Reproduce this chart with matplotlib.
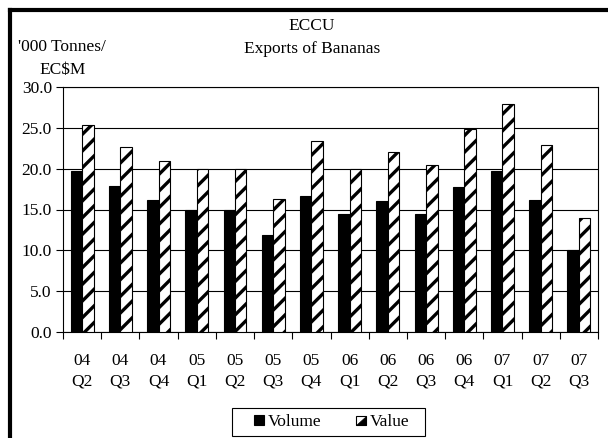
import numpy as np
import matplotlib
matplotlib.use("Agg")
import matplotlib.pyplot as plt
from matplotlib.patches import Rectangle, Polygon
from matplotlib.lines import Line2D
from matplotlib.ticker import FixedLocator, FormatStrFormatter

plt.rcParams["font.family"] = ["Liberation Serif", "DejaVu Serif"]
plt.rcParams["hatch.linewidth"] = 2.4

# ECCU banana exports by quarter
quarters = ["04\nQ2", "04\nQ3", "04\nQ4", "05\nQ1", "05\nQ2", "05\nQ3", "05\nQ4",
            "06\nQ1", "06\nQ2", "06\nQ3", "06\nQ4", "07\nQ1", "07\nQ2", "07\nQ3"]
volume = [19.7, 17.9, 16.2, 14.9, 15.0, 11.9, 16.6, 14.5, 16.0, 14.5, 17.7, 19.7, 16.2, 10.0]
value = [25.3, 22.7, 20.9, 19.9, 20.0, 16.3, 23.4, 19.9, 22.1, 20.4, 24.8, 27.9, 22.9, 13.9]


class HalfSquareHandler:
    """Legend key: outlined square with the lower-right half filled."""

    def legend_artist(self, legend, orig_handle, fontsize, handlebox):
        x0, y0 = -handlebox.xdescent, -handlebox.ydescent
        s = min(handlebox.width, handlebox.height)
        tr = handlebox.get_transform()
        sq = Rectangle((x0, y0), s, s, facecolor="white", edgecolor="black",
                       lw=0.8, transform=tr)
        tri = Polygon([[x0, y0], [x0 + s, y0], [x0 + s, y0 + s]], closed=True,
                      facecolor="black", edgecolor="black", lw=0.5, transform=tr)
        handlebox.add_artist(sq)
        handlebox.add_artist(tri)
        return sq


fs = 12.5
fig = plt.figure(figsize=(6.08, 4.38), dpi=100)
ax = fig.add_axes([63 / 608, 1 - 332 / 438, 535 / 608, 245 / 438])

x = np.arange(len(quarters))
w = 0.3
b1 = ax.bar(x - w / 2, volume, width=w, color="black", edgecolor="black",
            linewidth=0.8, label="Volume", zorder=3)
b2 = ax.bar(x + w / 2, value, width=w, color="white", edgecolor="black",
            hatch="//", linewidth=0.8, label="Value", zorder=3)

ax.set_xlim(-0.5, len(quarters) - 0.5)
ax.set_ylim(0, 30)
ax.set_yticks(np.arange(0, 31, 5))
ax.yaxis.set_major_formatter(FormatStrFormatter("%.1f"))
ax.yaxis.grid(True, color="black", linewidth=0.8)
ax.set_axisbelow(True)

# ticks sit between categories, labels under each category
ax.xaxis.set_major_locator(FixedLocator(np.arange(-0.5, len(quarters), 1.0)))
ax.xaxis.set_major_formatter(plt.NullFormatter())
ax.xaxis.set_minor_locator(FixedLocator(x))
ax.set_xticklabels(quarters, minor=True)
ax.tick_params(axis="x", which="major", direction="out", length=5, width=0.8)
ax.tick_params(axis="x", which="minor", length=0, pad=15, labelsize=fs)
ax.tick_params(axis="y", direction="out", length=5, width=0.8, pad=3, labelsize=fs)
for lbl in ax.get_xticklabels(minor=True):
    lbl.set_linespacing(1.35)

for sp in ax.spines.values():
    sp.set_linewidth(0.8)
    sp.set_color("black")

fig.text(312 / 608, 1 - 26 / 438, "ECCU", ha="center", va="center", fontsize=fs)
fig.text(312 / 608, 1 - 49 / 438, "Exports of Bananas", ha="center", va="center", fontsize=fs)
fig.text(62 / 608, 1 - 47 / 438, "'000 Tonnes/", ha="center", va="center", fontsize=fs)
fig.text(63 / 608, 1 - 70 / 438, "EC\\$M", ha="center", va="center", fontsize=fs)

# legend box drawn separately so the entries can sit off-centre inside it
fig.add_artist(Rectangle((232 / 608, 2 / 438), 193 / 608, 28 / 438,
                         facecolor="white", edgecolor="black", linewidth=0.8,
                         transform=fig.transFigure))
leg = fig.legend([b1, b2], ["Volume", "Value"], loc="center",
                 bbox_to_anchor=(332 / 608, 1 - 422 / 438), ncol=2,
                 fontsize=fs, frameon=False, handlelength=0.55, handleheight=0.55,
                 handletextpad=0.25, columnspacing=2.0, borderpad=0.0,
                 handler_map={b2: HalfSquareHandler()})

# outer chart frame (top and left edges)
fig.add_artist(Line2D([9.5 / 608, 9.5 / 608], [0, 1 - 10 / 438], color="black",
                      linewidth=3, transform=fig.transFigure, solid_capstyle="projecting"))
fig.add_artist(Line2D([9.5 / 608, 1], [1 - 10 / 438, 1 - 10 / 438], color="black",
                      linewidth=3, transform=fig.transFigure, solid_capstyle="projecting"))

fig.savefig("out.png", dpi=100)
plt.close(fig)
